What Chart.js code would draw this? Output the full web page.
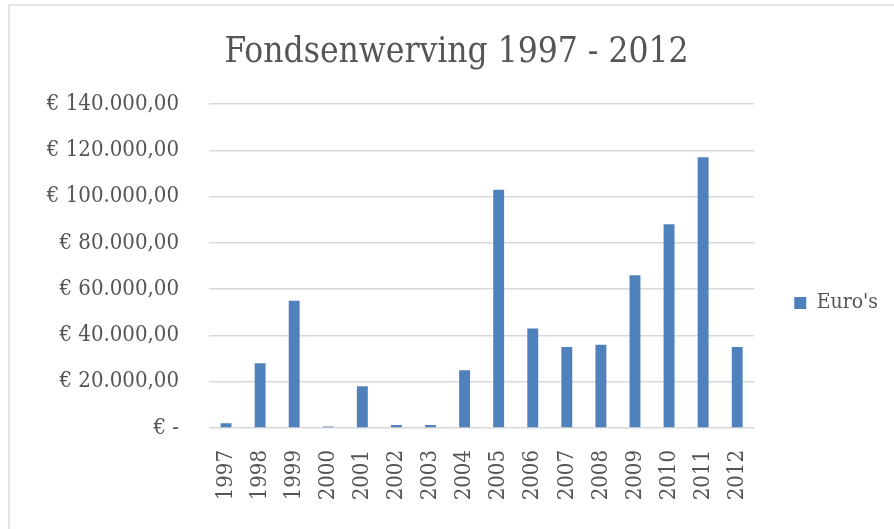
<!DOCTYPE html>
<html>
<head>
<meta charset="utf-8">
<script src="https://cdn.jsdelivr.net/npm/chart.js@4/dist/chart.umd.min.js"></script>
<style>
  html, body { margin: 0; padding: 0; background: #ffffff; overflow: hidden; }
  #wrap { position: relative; width: 894px; height: 529px; overflow: hidden; }
  #frame { position: absolute; left: 8px; top: 4px; width: 900px; height: 540px; border-left: 2px solid #e3e3e3; border-top: 2px solid #e3e3e3; box-sizing: border-box; pointer-events: none; }
  canvas { position: absolute; left: 0; top: 0; }
</style>
</head>
<body>
<div id="wrap">
  <canvas id="c" width="894" height="529"></canvas>
  <div id="frame"></div>
</div>
<script>
const years = ['1997','1998','1999','2000','2001','2002','2003','2004','2005','2006','2007','2008','2009','2010','2011','2012'];
const euros = [2000, 28000, 55000, 700, 18000, 1300, 1300, 25000, 103000, 43000, 35000, 36000, 66000, 88000, 117000, 35000];
const seriesLabel = "Euro's";
const chartTitle = 'Fondsenwerving 1997 - 2012';

const FONT = "'DejaVu Serif Condensed', 'DejaVu Serif', serif";
const TEXT = '#555555';

function euroFmt(v) {
  if (v === 0) return '€ -';
  const s = Math.round(v).toString().replace(/\B(?=(\d{3})+(?!\d))/g, '.');
  return '€ ' + s + ',00';
}

new Chart(document.getElementById('c'), {
  type: 'bar',
  data: {
    labels: years,
    datasets: [{
      label: seriesLabel,
      data: euros,
      backgroundColor: '#4f81bd',
      borderWidth: 0,
      categoryPercentage: 1.0,
      barPercentage: 0.32
    }]
  },
  options: {
    responsive: false,
    animation: false,
    devicePixelRatio: 1,
    layout: { padding: { left: 25, top: 28, right: 6, bottom: 0 } },
    plugins: {
      title: {
        display: true,
        text: chartTitle,
        color: TEXT,
        font: { family: FONT, size: 35, weight: 'normal', lineHeight: 1.2 },
        padding: { top: 4, bottom: 30 }
      },
      legend: {
        display: true,
        position: 'right',
        title: {
          display: true,
          text: '',
          font: { size: 10, lineHeight: 1.0 },
          padding: { top: 39, bottom: 0 }
        },
        labels: {
          color: TEXT,
          font: { family: FONT, size: 21 },
          boxWidth: 12,
          boxHeight: 12,
          padding: 10
        }
      },
      tooltip: { enabled: false }
    },
    scales: {
      x: {
        grid: { display: false, drawTicks: false },
        border: { display: false },
        ticks: {
          color: TEXT,
          font: { family: FONT, size: 22 },
          minRotation: 90,
          maxRotation: 90,
          padding: 22,
          autoSkip: false
        },
        afterFit(s) { s.height = 101; }
      },
      y: {
        min: 0,
        max: 140000,
        grid: { color: '#d9d9d9', lineWidth: 1.5, drawTicks: false },
        border: { display: false },
        ticks: {
          stepSize: 20000,
          color: TEXT,
          font: { family: FONT, size: 22 },
          padding: 30,
          callback: (v) => euroFmt(v)
        },
        afterFit(s) { s.width = 184; }
      },
      spacer: {
        position: 'right',
        display: true,
        grid: { display: false, drawTicks: false },
        border: { display: false },
        ticks: { display: false },
        afterFit(s) { s.width = 30; }
      }
    }
  }
});
</script>
</body>
</html>
